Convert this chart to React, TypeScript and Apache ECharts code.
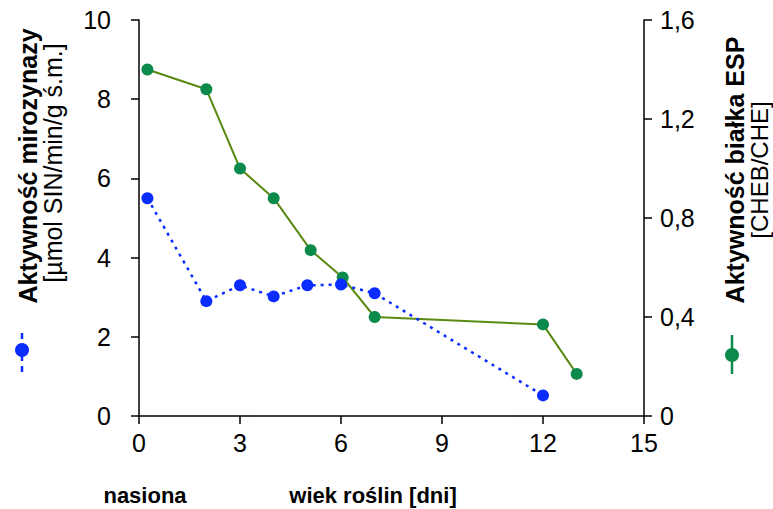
import React, { useEffect, useRef } from "react";
import * as echarts from "echarts";

const xTicks = [0, 3, 6, 9, 12, 15];
const myrosinaseDays = [0.25, 2, 3, 4, 5, 6, 7, 12];
const myrosinaseValues = [5.5, 2.9, 3.3, 3.02, 3.3, 3.32, 3.1, 0.52];
const espDays = [0.25, 2, 3, 4, 5.1, 6.05, 7, 12, 13];
const espValues = [1.4, 1.32, 1.0, 0.88, 0.67, 0.56, 0.4, 0.37, 0.17];

const leftTitle = "Aktywność mirozynazy";
const leftUnit = "[µmol SIN/min/g ś.m.]";
const rightTitle = "Aktywność białka ESP";
const rightUnit = "[CHEB/CHE]";
const seedLabel = "nasiona";
const xTitle = "wiek roślin [dni]";

const FONT = "Liberation Sans, Arial, sans-serif";

export default function App() {
  const ref = useRef<HTMLDivElement>(null);
  useEffect(() => {
    document.body.style.margin = "0";
    const chart = echarts.init(ref.current!, null, { renderer: "svg" });
    const blue = "#0a2cff";
    const greenLine = "#5b8a12";
    const greenDot = "#0b8a4c";
    chart.setOption({
      animation: false,
      grid: { left: 139, right: 129, top: 20, bottom: 93 },
      xAxis: {
        type: "value",
        min: xTicks[0],
        max: xTicks[xTicks.length - 1],
        interval: 3,
        axisLine: { lineStyle: { color: "#000", width: 1.5 } },
        axisTick: { length: 8, lineStyle: { color: "#000", width: 1.5 } },
        axisLabel: { color: "#000", fontSize: 25, fontFamily: FONT, margin: 14 },
        splitLine: { show: false },
      },
      yAxis: [
        {
          type: "value",
          min: 0,
          max: 10,
          interval: 2,
          position: "left",
          axisLine: { show: true, lineStyle: { color: "#000", width: 1.5 } },
          axisTick: { show: true, length: 8, lineStyle: { color: "#000", width: 1.5 } },
          axisLabel: { color: "#000", fontSize: 25, fontFamily: FONT, margin: 28 },
          splitLine: { show: false },
        },
        {
          type: "value",
          min: 0,
          max: 1.6,
          interval: 0.4,
          position: "right",
          axisLine: { show: true, lineStyle: { color: "#000", width: 1.5 } },
          axisTick: { show: true, length: 8, lineStyle: { color: "#000", width: 1.5 } },
          axisLabel: {
            color: "#000",
            fontSize: 25,
            fontFamily: FONT,
            margin: 16,
            formatter: (v: number) => (v === 0 ? "0" : v.toFixed(1).replace(".", ",")),
          },
          splitLine: { show: false },
        },
      ],
      series: [
        {
          type: "line",
          yAxisIndex: 1,
          data: espDays.map((d, i) => [d, espValues[i]]),
          symbol: "circle",
          symbolSize: 12,
          lineStyle: { color: greenLine, width: 2 },
          itemStyle: { color: greenDot },
          z: 2,
        },
        {
          type: "line",
          yAxisIndex: 0,
          data: myrosinaseDays.map((d, i) => [d, myrosinaseValues[i]]),
          symbol: "circle",
          symbolSize: 12,
          lineStyle: { color: blue, width: 2.5, type: [3, 5] },
          itemStyle: { color: blue },
          z: 3,
        },
      ],
      graphic: [
        {
          type: "text",
          x: 28,
          y: 166,
          rotation: Math.PI / 2,
          style: {
            text: leftTitle,
            font: `bold 25px ${FONT}`,
            fill: "#000",
            textAlign: "center",
            textVerticalAlign: "middle",
          },
        },
        {
          type: "text",
          x: 53,
          y: 163,
          rotation: Math.PI / 2,
          style: {
            text: leftUnit,
            font: `25px ${FONT}`,
            fill: "#000",
            textAlign: "center",
            textVerticalAlign: "middle",
          },
        },
        {
          type: "line",
          shape: { x1: 22, y1: 333, x2: 22, y2: 373 },
          style: { stroke: blue, lineWidth: 2.5, lineDash: [6, 5] },
        },
        {
          type: "circle",
          shape: { cx: 22, cy: 350, r: 7 },
          style: { fill: blue },
        },
        {
          type: "text",
          x: 735,
          y: 170,
          rotation: Math.PI / 2,
          style: {
            text: rightTitle,
            font: `bold 25px ${FONT}`,
            fill: "#000",
            textAlign: "center",
            textVerticalAlign: "middle",
          },
        },
        {
          type: "text",
          x: 759,
          y: 170,
          rotation: Math.PI / 2,
          style: {
            text: rightUnit,
            font: `24px ${FONT}`,
            fill: "#000",
            textAlign: "center",
            textVerticalAlign: "middle",
          },
        },
        {
          type: "line",
          shape: { x1: 732, y1: 335, x2: 732, y2: 374 },
          style: { stroke: greenDot, lineWidth: 2.5 },
        },
        {
          type: "circle",
          shape: { cx: 732, cy: 355, r: 7 },
          style: { fill: greenDot },
        },
        {
          type: "text",
          x: 145,
          y: 495,
          style: {
            text: seedLabel,
            font: `bold 22px ${FONT}`,
            fill: "#000",
            textAlign: "center",
            textVerticalAlign: "middle",
          },
        },
        {
          type: "text",
          x: 373,
          y: 495,
          style: {
            text: xTitle,
            font: `bold 22px ${FONT}`,
            fill: "#000",
            textAlign: "center",
            textVerticalAlign: "middle",
          },
        },
      ],
    });
    return () => chart.dispose();
  }, []);
  return (
    <div
      ref={ref}
      style={{ position: "absolute", left: 0, top: 0, width: 773, height: 509 }}
    />
  );
}
